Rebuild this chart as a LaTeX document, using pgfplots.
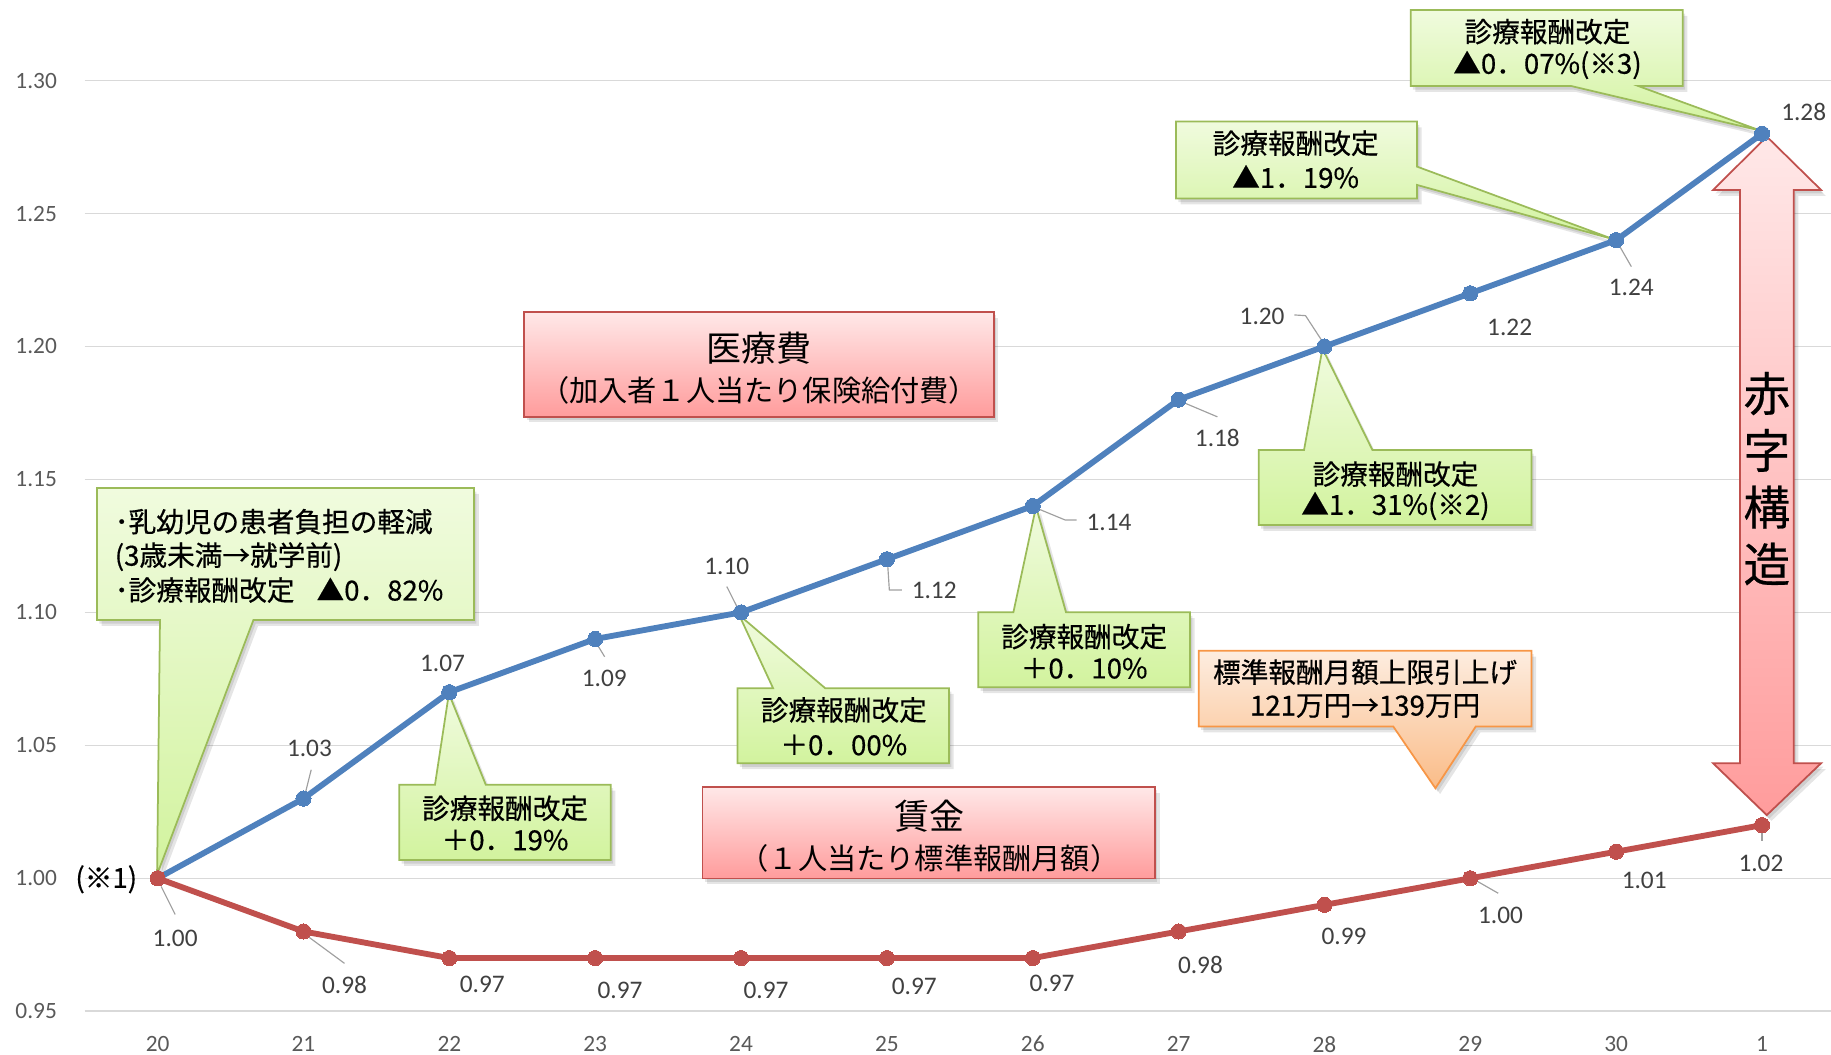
\documentclass[border=0pt]{standalone}
\usepackage{fontspec}
\setmainfont{Carlito}
\newfontfamily\jp{Noto Sans CJK JP}
\newfontfamily\jpb[FakeBold=0.5]{Noto Sans CJK JP}
\usepackage{pgfplots}
\usepackage{pgfplotstable}
\pgfplotsset{compat=1.18}
\usetikzlibrary{calc}

\definecolor{medblue}{RGB}{79,129,189}
\definecolor{wagered}{RGB}{192,80,77}
\definecolor{gridc}{RGB}{217,217,217}
\definecolor{tickc}{RGB}{89,89,89}
\definecolor{labc}{RGB}{64,64,64}
\definecolor{leadc}{RGB}{160,160,160}
\definecolor{gtop}{RGB}{240,251,222}
\definecolor{gbot}{RGB}{210,243,158}
\definecolor{gline}{RGB}{155,187,89}
\definecolor{otop}{RGB}{253,237,224}
\definecolor{obot}{RGB}{250,188,136}
\definecolor{oline}{RGB}{247,150,70}
\definecolor{rtop}{RGB}{255,232,232}
\definecolor{rbot}{RGB}{255,156,156}
\definecolor{rline}{RGB}{192,80,77}

% medical cost per insured person (index, FY20 = 1.00)
\pgfplotstableread{
x y
0 1.00
1 1.03
2 1.07
3 1.09
4 1.10
5 1.12
6 1.14
7 1.18
8 1.20
9 1.22
10 1.24
11 1.28
}\iryohi

% standard monthly remuneration per person (index, FY20 = 1.00)
\pgfplotstableread{
x y
0 1.00
1 0.98
2 0.97
3 0.97
4 0.97
5 0.97
6 0.97
7 0.98
8 0.99
9 1.00
10 1.01
11 1.02
}\chingin

\tikzset{
  jt/.style={font=\jpb\fontsize{14.2}{17}\selectfont, inner sep=0pt, text=black},
  jbig/.style={font=\jp\fontsize{18}{21}\selectfont, inner sep=0pt, text=black},
  jmid/.style={font=\jp\fontsize{15}{18}\selectfont, inner sep=0pt, text=black},
  jarrow/.style={font=\jpb\fontsize{24}{28}\selectfont, inner sep=0pt, text=black},
  dlab/.style={font=\fontsize{13}{15}\selectfont, text=labc, inner sep=0pt},
  leader/.style={draw=leadc, line width=0.6pt},
}

% shadowed, gradient-filled shape: path, top colour, bottom colour, border colour
\newcommand{\shapeit}[4]{%
  \fill[black, opacity=0.10, shift={(4,5)}] #1;
  \fill[black, opacity=0.10, shift={(2,3)}] #1;
  \path[top color=#2, bottom color=#3, draw=#4, line width=0.9pt, line join=miter] #1;}

% data label stating the value of point (#1,#2), shifted by (#3,#4) pt
\newcommand{\dlab}[4]{\node[dlab, xshift=#3pt, yshift=#4pt] at (axis cs:#1,#2) {#2};}

\pgfplotsset{
  frame/.style={
    at={(43.53pt,22.2pt)}, anchor=south west,
    scale only axis, width=897.27pt, height=519.6pt,
    xmin=-0.5, xmax=11.473, ymin=0.95, ymax=1.3303,
  }
}

\begin{document}
\begin{tikzpicture}
\useasboundingbox (0,0) rectangle (940.8pt,541.8pt);

% grid and tick labels
\begin{axis}[frame,
  axis line style={draw=none},
  major tick length=0pt,
  xtick={0,...,11},
  xticklabels={20,21,22,23,24,25,26,27,28,29,30,1},
  ytick={0.95,1.00,1.05,1.10,1.15,1.20,1.25,1.30},
  ymajorgrids, grid style={gridc, line width=0.8pt},
  tick label style={font=\fontsize{12}{14}\selectfont, text=tickc, inner sep=0pt},
  xticklabel style={anchor=north, yshift=-12.6pt},
  yticklabel style={anchor=east, xshift=-14.1pt,
    /pgf/number format/.cd, fixed, fixed zerofill, precision=2},
  /pgf/number format/assume math mode=true,
]
\end{axis}

% annotation shapes
\begin{scope}[x=0.6pt, y=-0.6pt, shift={(0pt,541.8pt)}]
  % callouts (green)
  \shapeit{(83,418) -- (406,418) -- (406,531) -- (217,531) -- (134.5,749) -- (137,531) -- (83,531) -- cycle}{gtop}{gbot}{gline}
  \shapeit{(342,672) -- (372.5,672) -- (384.4,594) -- (416,672) -- (523,672) -- (523,736.5) -- (342,736.5) -- cycle}{gtop}{gbot}{gline}
  \shapeit{(631.6,589.3) -- (662,589.3) -- (633,526.7) -- (706.6,589.3) -- (812.7,589.3) -- (812.7,653.7) -- (631.6,653.7) -- cycle}{gtop}{gbot}{gline}
  \shapeit{(837.8,524.4) -- (867.8,524.4) -- (887.2,434) -- (912.9,524.4) -- (1019,524.4) -- (1019,588.6) -- (837.8,588.6) -- cycle}{gtop}{gbot}{gline}
  \shapeit{(1077.9,385.4) -- (1116.7,385.4) -- (1132.5,298.5) -- (1175.3,385.4) -- (1311.4,385.4) -- (1311.4,449.6) -- (1077.9,449.6) -- cycle}{gtop}{gbot}{gline}
  \shapeit{(1007,104) -- (1213.5,104) -- (1213.5,142.7) -- (1382,205) -- (1213.5,158.4) -- (1213.5,170) -- (1007,170) -- cycle}{gtop}{gbot}{gline}
  \shapeit{(1208,8.6) -- (1441,8.6) -- (1441,73.7) -- (1403,73.7) -- (1508,112) -- (1345.6,73.7) -- (1208,73.7) -- cycle}{gtop}{gbot}{gline}
  % callout (orange)
  \shapeit{(1026.5,557.2) -- (1311.4,557.2) -- (1311.4,622.1) -- (1263.8,622.1) -- (1229.2,675) -- (1193.1,622.1) -- (1026.5,622.1) -- cycle}{otop}{obot}{oline}
  % series titles
  \shapeit{(449,267) rectangle (851,356.8)}{rtop}{rbot}{rline}
  \shapeit{(601.6,673.7) rectangle (989,752.2)}{rtop}{rbot}{rline}
  % double arrow
  \shapeit{(1513,117) -- (1559.5,162.7) -- (1536,162.7) -- (1536,653.6) -- (1559.5,653.6) -- (1513,698) -- (1467,653.6) -- (1490,653.6) -- (1490,162.7) -- (1467,162.7) -- cycle}{rtop}{rbot}{rline}

  % texts
  \node[jt, anchor=west] at (98,446.7) {･乳幼児の患者負担の軽減};
  \node[jt, anchor=west] at (98,476.7) {(3歳未満→就学前)};
  \node[jt, anchor=west] at (98,505.3) {･診療報酬改定\hspace{0.8em}▲0．82\%};

  \node[jt] at (432.5,692.2) {診療報酬改定};
  \node[jt] at (432.5,719.4) {＋0．19\%};
  \node[jt] at (722.6,608) {診療報酬改定};
  \node[jt] at (722.6,638) {＋0．00\%};
  \node[jt] at (928.4,545.2) {診療報酬改定};
  \node[jt] at (928.4,572.3) {＋0．10\%};
  \node[jt] at (1195,406) {診療報酬改定};
  \node[jt] at (1195,433.4) {▲1．31\%(※2)};
  \node[jt] at (1109.5,122.7) {診療報酬改定};
  \node[jt] at (1109.5,151.3) {▲1．19\%};
  \node[jt] at (1325.2,27.1) {診療報酬改定};
  \node[jt] at (1325.2,55.7) {▲0．07\%(※3)};
  \node[jt] at (1169,575.5) {標準報酬月額上限引上げ};
  \node[jt] at (1169,604.6) {121万円→139万円};

  \node[jbig] at (650,298.3) {医療費};
  \node[jmid] at (650,334) {（加入者１人当たり保険給付費）};
  \node[jbig] at (796,699.4) {賃金};
  \node[jmid] at (796,735) {（１人当たり標準報酬月額）};

  \node[jarrow] at (1513,337) {赤};
  \node[jarrow] at (1513,385.7) {字};
  \node[jarrow] at (1513,434.3) {構};
  \node[jarrow] at (1513,483) {造};

  \node[jt] at (91,753) {(※1)};
\end{scope}

% series, markers and data labels
\begin{axis}[frame, hide axis, clip=false]
  \addplot[medblue, line width=3pt, line join=round, mark=*, mark size=3.9pt,
    mark options={fill=medblue, draw=medblue, line width=0pt, solid}]
    table[x=x, y=y] {\iryohi};
  \addplot[wagered, line width=3pt, line join=round, mark=*, mark size=3.9pt,
    mark options={fill=wagered, draw=wagered, line width=0pt, solid}]
    table[x=x, y=y] {\chingin};

  % leader lines
  \draw[leader] ($(axis cs:1,1.03)+(0.54pt,1.2pt)$) -- ($(axis cs:1,1.03)+(3.96pt,14.76pt)$);
  \draw[leader] ($(axis cs:3,1.09)+(-0.42pt,-0.48pt)$) -- ($(axis cs:3,1.09)+(4.86pt,-9.12pt)$);
  \draw[leader] ($(axis cs:4,1.10)+(-7.32pt,13.26pt)$) -- ($(axis cs:4,1.10)+(-1.26pt,1.26pt)$);
  \draw[leader] ($(axis cs:5,1.12)+(0.3pt,-1.26pt)$) -- ($(axis cs:5,1.12)+(1.26pt,-15.84pt)$) -- ($(axis cs:5,1.12)+(7.68pt,-15.84pt)$);
  \draw[leader] ($(axis cs:6,1.14)+(2.04pt,-1.14pt)$) -- ($(axis cs:6,1.14)+(16.56pt,-7.14pt)$) -- ($(axis cs:6,1.14)+(22.56pt,-7.14pt)$);
  \draw[leader] ($(axis cs:7,1.18)+(0pt,-0.42pt)$) -- ($(axis cs:7,1.18)+(19.92pt,-8.82pt)$);
  \draw[leader] ($(axis cs:8,1.20)+(-15.48pt,16.2pt)$) -- ($(axis cs:8,1.20)+(-9.72pt,15.84pt)$) -- ($(axis cs:8,1.20)+(-0.36pt,1.5pt)$);
  \draw[leader] ($(axis cs:10,1.24)+(0.42pt,-0.78pt)$) -- ($(axis cs:10,1.24)+(7.8pt,-13.62pt)$);
  \draw[leader] ($(axis cs:0,1.00)+(1.8pt,-4.2pt)$) -- ($(axis cs:0,1.00)+(9pt,-18.6pt)$);
  \draw[leader] ($(axis cs:1,0.98)+(1.26pt,-1.8pt)$) -- ($(axis cs:1,0.98)+(21.06pt,-16.38pt)$);
  \draw[leader] ($(axis cs:9,1.00)+(1.74pt,-0.48pt)$) -- ($(axis cs:9,1.00)+(14.34pt,-7.68pt)$);
  \draw[leader] ($(axis cs:11,1.02)+(0pt,-3pt)$) -- ($(axis cs:11,1.02)+(0pt,-8.4pt)$);

  % labels, medical cost
  \dlab{1}{1.03}{3.06}{25.8}
  \dlab{2}{1.07}{-3.48}{14.88}
  \dlab{3}{1.09}{4.68}{-20.28}
  \dlab{4}{1.10}{-7.32}{23.52}
  \dlab{5}{1.12}{24.3}{-15.84}
  \dlab{6}{1.14}{39.18}{-8.52}
  \dlab{7}{1.18}{19.92}{-19.8}
  \dlab{8}{1.20}{-32.04}{15.3}
  \dlab{9}{1.22}{20.22}{-17.58}
  \dlab{10}{1.24}{7.8}{-24.18}
  \dlab{11}{1.28}{21.42}{11.4}
  % labels, wages
  \dlab{0}{1.00}{9}{-30.84}
  \dlab{1}{0.98}{21.06}{-27.48}
  \dlab{2}{0.97}{16.92}{-13.32}
  \dlab{3}{0.97}{12.78}{-16.38}
  \dlab{4}{0.97}{12.84}{-16.5}
  \dlab{5}{0.97}{14.1}{-14.7}
  \dlab{6}{0.97}{9.96}{-12.9}
  \dlab{7}{0.98}{11.22}{-17.22}
  \dlab{8}{0.99}{10.08}{-16.26}
  \dlab{9}{1.00}{15.54}{-18.84}
  \dlab{10}{1.01}{14.4}{-14.52}
  \dlab{11}{1.02}{-0.54}{-19.62}
\end{axis}
\end{tikzpicture}
\end{document}
